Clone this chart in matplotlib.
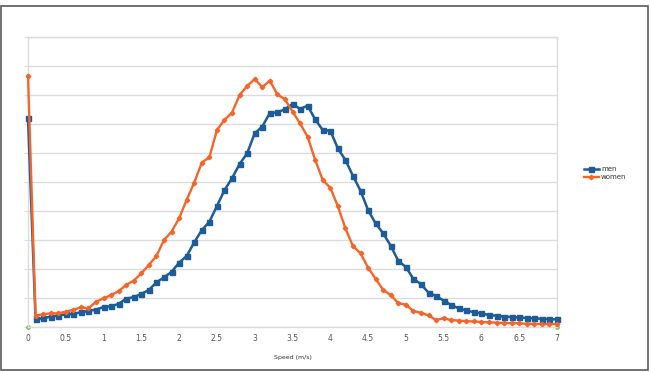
import numpy as np
import matplotlib
matplotlib.use("Agg")
import matplotlib.pyplot as plt
from matplotlib.patches import Rectangle

# speed bins (m/s), 0.0 .. 7.0 in steps of 0.1
speed = np.round(np.arange(0, 71) * 0.1, 1)

men = [7.20, 0.28, 0.30, 0.36, 0.39, 0.44, 0.45, 0.51, 0.55, 0.60,
       0.69, 0.71, 0.80, 0.98, 1.03, 1.14, 1.28, 1.54, 1.71, 1.90,
       2.22, 2.45, 2.92, 3.34, 3.63, 4.17, 4.72, 5.13, 5.62, 5.99,
       6.68, 6.91, 7.38, 7.40, 7.51, 7.69, 7.52, 7.63, 7.16, 6.79,
       6.77, 6.16, 5.76, 5.21, 4.70, 4.03, 3.57, 3.23, 2.80, 2.28,
       2.07, 1.66, 1.48, 1.18, 1.07, 0.91, 0.76, 0.64, 0.57, 0.51,
       0.47, 0.41, 0.39, 0.36, 0.34, 0.33, 0.31, 0.30, 0.28, 0.27,
       0.26]

women = [8.67, 0.39, 0.44, 0.47, 0.47, 0.53, 0.59, 0.68, 0.64, 0.87,
         0.99, 1.10, 1.24, 1.45, 1.60, 1.85, 2.14, 2.45, 3.00, 3.29,
         3.75, 4.39, 4.98, 5.67, 5.85, 6.79, 7.14, 7.39, 8.00, 8.31,
         8.55, 8.27, 8.49, 8.02, 7.85, 7.43, 7.02, 6.56, 5.76, 5.07,
         4.80, 4.17, 3.40, 2.79, 2.54, 2.05, 1.66, 1.28, 1.10, 0.82,
         0.77, 0.55, 0.49, 0.40, 0.24, 0.30, 0.24, 0.22, 0.20, 0.19,
         0.17, 0.16, 0.15, 0.14, 0.13, 0.13, 0.11, 0.11, 0.10, 0.10,
         0.10]

baseline_x = [0, 7]
baseline_y = [0, 0]

xticks = np.arange(0, 7.01, 0.5)
xticklabels = ["0", "0.5", "1", "1.5", "2", "2.5", "3", "3.5",
               "4", "4.5", "5", "5.5", "6", "6.5", "7"]

blue = "#1b5c99"
orange = "#f5652a"
grid_c = "#dcdcdc"

fig = plt.figure(figsize=(6.51, 3.72), dpi=100)
fig.patch.set_facecolor("white")

# outer frame
fig.patches.append(Rectangle((0.002, 0.005), 0.994, 0.98, transform=fig.transFigure,
                             fill=False, edgecolor="#666666", linewidth=1.3))

ax = fig.add_axes([28 / 651, 45 / 372, 529 / 651, 290 / 372])
ax.set_xlim(0, 7)
ax.set_ylim(0, 10)

ax.set_yticks(np.arange(0, 11, 1))
ax.set_yticklabels([])
ax.yaxis.grid(True, color=grid_c, linewidth=1)
ax.tick_params(axis="y", length=3, color=grid_c)
ax.set_xticks(xticks)
ax.set_xticklabels(xticklabels, fontsize=5.5, color="#555555")
ax.tick_params(axis="x", length=0, pad=5)

for side in ["left", "right", "top", "bottom"]:
    ax.spines[side].set_color(grid_c)
    ax.spines[side].set_linewidth(1)

ax.plot(speed, men, color=blue, linewidth=1.8, marker="s", markersize=3.6,
        label="men", zorder=3, clip_on=False)
ax.plot(speed, women, color=orange, linewidth=1.7, marker="D", markersize=2.3,
        label="women", zorder=4, clip_on=False)
ax.plot(baseline_x, baseline_y, linestyle="none", marker="o", markersize=2.5,
        color="#8cc152", zorder=2, clip_on=False)

ax.set_xlabel("Speed (m/s)", fontsize=4.5, color="#333333", labelpad=9)

leg = ax.legend(loc="center left", bbox_to_anchor=(1.045, 0.53), fontsize=5,
                frameon=False, handlelength=2.2, handletextpad=0.3,
                labelspacing=0.3, borderaxespad=0)
for t in leg.get_texts():
    t.set_color("#333333")

fig.savefig("out.png", dpi=100, facecolor="white")
